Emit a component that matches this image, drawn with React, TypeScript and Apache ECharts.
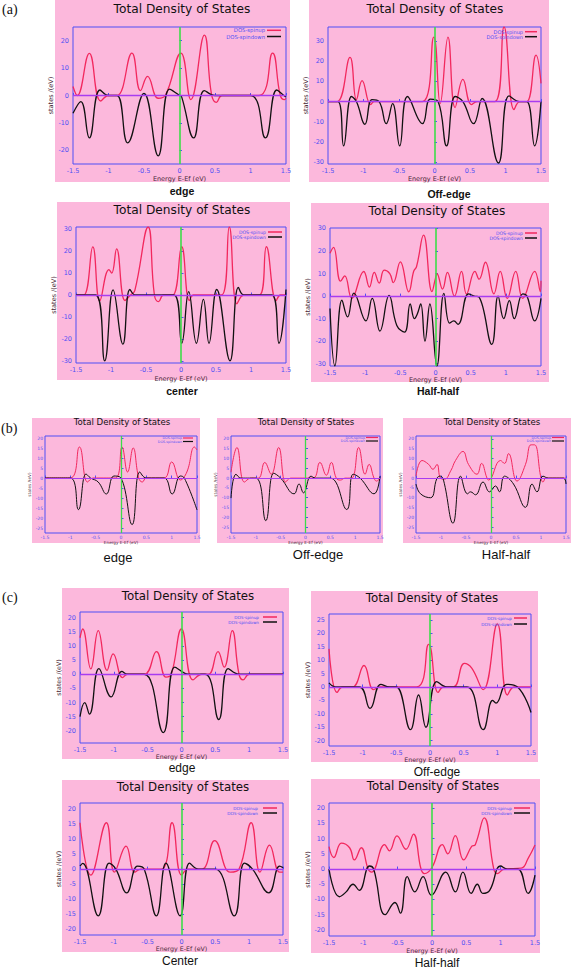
import React, { useEffect, useRef } from 'react';
import * as echarts from 'echarts';

type Pt = [number, number];

// ---------- (a) ----------
const aEdgeUp: Pt[] = [[-1.5,3.3],[-1.44,0],[-1.27,15.4],[-1.11,-2],[-1.0,0],[-0.88,0],[-0.67,15.5],[-0.55,1.8],[-0.45,7],[-0.30,-1],[-0.2,0],[0.02,15.5],[0.16,-1.5],[0.35,22],[0.45,0.5],[0.52,-2.5],[0.6,0],[1.12,0],[1.31,15.5],[1.42,0],[1.48,-1.5],[1.5,-1]];
const aEdgeDown: Pt[] = [[-1.5,-6.5],[-1.39,-2.2],[-1.27,-15.5],[-1.12,2],[-1.0,0],[-0.88,0],[-0.73,-17.3],[-0.5,0.8],[-0.3,-22],[-0.14,2.3],[0,0],[0.03,-0.5],[0.2,-15.5],[0.35,1.8],[0.5,0],[1.0,0],[1.21,-15.5],[1.37,2],[1.47,0],[1.5,-0.5]];
const aOffUp: Pt[] = [[-1.5,0],[-1.37,0],[-1.19,21.9],[-1.10,1],[-1.02,10.4],[-0.90,-1.5],[-0.85,0],[-0.17,0],[-0.01,32],[0.08,-1],[0.19,32],[0.29,-3],[0.40,11],[0.52,-1.5],[0.6,0],[0.85,0],[0.98,37],[1.12,-4],[1.2,0],[1.3,0],[1.43,23],[1.5,9]];
const aOffDown: Pt[] = [[-1.5,0],[-1.36,0],[-1.28,-22],[-1.17,2.5],[-1.1,0],[-0.98,-11.3],[-0.88,1],[-0.78,0],[-0.68,-11],[-0.59,-1],[-0.49,-22],[-0.38,2.5],[-0.17,-11],[-0.06,1.2],[0.05,0],[0.17,-22],[0.29,2.5],[0.4,0],[0.55,-11],[0.67,1.5],[0.90,-30.5],[1.05,2.8],[1.2,0],[1.3,0],[1.41,-22],[1.5,0]];
const aCenterUp: Pt[] = [[-1.5,0],[-1.39,0],[-1.26,21.9],[-1.16,-2.7],[-1.03,11.6],[-0.99,10],[-0.92,21],[-0.80,-2.5],[-0.72,0],[-0.66,2],[-0.47,31],[-0.38,0],[-0.32,-3],[-0.25,0],[-0.12,0],[0.01,22],[0.12,-2.5],[0.18,0],[0.58,0],[0.69,31],[0.80,-4],[0.9,0],[1.12,0],[1.22,22],[1.36,-2.5],[1.42,0],[1.5,0]];
const aCenterDown: Pt[] = [[-1.5,0],[-1.22,0],[-1.09,-30],[-0.97,2.3],[-0.83,-22.4],[-0.73,2.5],[-0.65,0],[-0.1,0],[0.01,-22],[0.11,1.5],[0.22,-22],[0.32,-2],[0.40,-22],[0.51,2.5],[0.70,-30],[0.82,3.5],[0.9,0],[1.3,0],[1.40,-22],[1.5,2.5]];
const aHalfUp: Pt[] = [[-1.5,19],[-1.45,21.6],[-1.35,6.6],[-1.29,9],[-1.19,-1],[-1.02,10.9],[-0.94,4],[-0.87,10.5],[-0.80,5.8],[-0.73,11.5],[-0.65,10],[-0.60,6],[-0.50,15.2],[-0.38,1.9],[-0.31,11],[-0.27,13],[-0.17,27],[-0.05,2],[0,8],[0.02,9.9],[0.10,3.1],[0.17,10.5],[0.27,0],[0.37,11],[0.44,1],[0.56,11],[0.62,7.5],[0.71,15],[0.83,1],[0.92,11],[1.02,-1],[1.14,11],[1.24,-1],[1.41,11],[1.49,2],[1.5,6.8]];
const aHalfDown: Pt[] = [[-1.5,-5.5],[-1.43,-31],[-1.33,-1.8],[-1.25,-9.2],[-1.16,1.3],[-0.99,-11],[-0.90,-1],[-0.79,-15.5],[-0.66,0.3],[-0.55,-13],[-0.44,-16],[-0.36,-3.5],[-0.30,-10],[-0.26,-8],[-0.21,-3.5],[-0.15,-20],[-0.08,-3.5],[0.02,-31],[0.12,1.2],[0.20,-12],[0.26,-11],[0.32,-12.5],[0.47,1],[0.55,0],[0.62,-0.5],[0.80,-21.4],[0.89,0],[0.97,-10],[1.05,-2],[1.12,-10],[1.24,1],[1.30,0],[1.41,-11],[1.5,-1]];

// ---------- (b) ----------
const bEdgeUp: Pt[] = [[-1.5,0],[-1.0,0],[-0.82,15.5],[-0.66,-2],[-0.55,0],[-0.11,0],[0.02,15.5],[0.13,3],[0.24,15],[0.35,0],[0.42,-2],[0.5,0],[0.85,0],[1.0,8],[1.17,-1],[1.3,3],[1.45,15.5],[1.5,14]];
const bEdgeDown: Pt[] = [[-1.5,0],[-1.0,0],[-0.84,-15.8],[-0.69,2],[-0.6,0],[-0.45,-2],[-0.29,-8],[-0.14,1],[0,0],[0.22,-23.3],[0.37,3],[0.5,0],[0.85,0],[1.01,-8],[1.17,1],[1.25,0],[1.5,-16]];
const bOffUp: Pt[] = [[-1.5,3],[-1.38,15.6],[-1.23,-2],[-1.1,0],[-0.95,0],[-0.82,8],[-0.69,2],[-0.54,15.6],[-0.40,-2],[-0.3,0],[0.15,0],[0.29,8],[0.42,1.5],[0.52,8],[0.62,0],[0.7,-1],[0.8,0],[0.93,0],[1.07,15.6],[1.20,2],[1.28,7],[1.38,0],[1.43,-1.5],[1.5,0]];
const bOffDown: Pt[] = [[-1.5,-10.2],[-1.40,2],[-1.3,0],[-1.0,0],[-0.80,-21.7],[-0.64,2.5],[-0.5,0],[-0.23,-8],[-0.13,-3],[-0.04,-7.5],[0.11,1],[0.2,0],[0.5,0],[0.83,-16],[0.96,2],[1.1,0],[1.38,-8],[1.5,1]];
const bHalfUp: Pt[] = [[-1.5,1],[-1.38,9],[-1.25,7.1],[-1.16,4.5],[-1.08,7],[-1.01,0],[-0.93,-0.5],[-0.80,4],[-0.71,9],[-0.56,13.6],[-0.45,7],[-0.28,2],[-0.19,7.5],[-0.08,0],[-0.05,-1],[0.19,9],[0.27,7.5],[0.35,12.5],[0.52,-1.5],[0.69,7],[0.80,17],[0.87,17],[1.0,0],[1.04,-2],[1.1,0],[1.5,0]];
const bHalfDown: Pt[] = [[-1.5,-3],[-1.41,-8],[-1.21,-10],[-1.08,0],[-1.01,1],[-0.95,-1],[-0.76,-23],[-0.61,1],[-0.47,-8],[-0.41,-7],[-0.31,-8.5],[-0.16,-2],[-0.03,-7],[0.09,-4],[0.17,-7],[0.27,1],[0.45,-3],[0.69,-14.9],[0.82,-3],[0.92,-7],[1.04,1],[1.15,0],[1.45,0],[1.5,-3]];

// ---------- (c) ----------
const cEdgeUp: Pt[] = [[-1.5,12.9],[-1.46,16],[-1.34,1.9],[-1.23,15.4],[-1.10,1.4],[-1.01,7.2],[-0.87,-1.2],[-0.8,0],[-0.55,0],[-0.37,8],[-0.23,-1],[-0.15,0],[0.0,16],[0.17,-2],[0.3,0],[0.4,0],[0.54,8],[0.63,2.5],[0.75,15.4],[0.85,0],[0.91,-2],[1.0,0],[1.5,0]];
const cEdgeDown: Pt[] = [[-1.5,-15],[-1.43,-10],[-1.36,-14.1],[-1.22,2],[-1.04,-8],[-0.88,1],[-0.8,0],[-0.55,0],[-0.27,-20.6],[-0.10,2.5],[0.05,0.3],[0.1,0],[0.35,0],[0.55,-16],[0.69,2],[0.85,0],[1.5,0]];
const cOffUp: Pt[] = [[-1.5,14.2],[-1.38,-2],[-1.3,0],[-1.15,0],[-0.98,8],[-0.84,-1],[-0.75,0],[-0.2,0],[-0.02,15.9],[0.12,-2],[0.2,0],[0.35,0],[0.51,8.8],[0.62,7],[0.79,-1],[1.0,23.5],[1.15,-3],[1.25,0],[1.5,0]];
const cOffDown: Pt[] = [[-1.5,1.5],[-1.4,0],[-1.05,0],[-0.89,-8],[-0.73,1],[-0.6,0],[-0.5,0],[-0.29,-15.9],[-0.17,-3],[-0.06,-15],[0.10,2],[0.25,0],[0.55,0],[0.79,-15.9],[0.93,-5],[0.98,-6],[1.14,1],[1.3,0],[1.5,-9.5]];
const cCenterUp: Pt[] = [[-1.5,15.5],[-1.34,-2],[-1.11,15.5],[-0.99,-1],[-0.82,7.7],[-0.69,-1],[-0.6,0],[-0.3,0],[-0.14,15.5],[0.0,-2],[0.1,0],[0.3,0],[0.49,9.5],[0.72,-1],[0.85,0],[1.03,15.5],[1.16,-1],[1.30,8],[1.45,-1],[1.5,-1]];
const cCenterDown: Pt[] = [[-1.5,1],[-1.46,1.9],[-1.23,-15.6],[-1.07,2],[-0.97,0],[-0.81,-7.9],[-0.65,1],[-0.55,0],[-0.37,-15.6],[-0.23,2],[-0.02,-15.6],[0.12,2],[0.25,0],[0.5,0],[0.78,-15.6],[0.93,2],[1.05,0],[1.29,-7.9],[1.45,1],[1.5,0.5]];
const cHalfUp: Pt[] = [[-1.5,7.4],[-1.43,3.8],[-1.32,8.5],[-1.2,7],[-1.13,3],[-1.03,7],[-0.93,0],[-0.88,-1],[-0.69,8],[-0.62,6],[-0.51,10.9],[-0.38,6.5],[-0.27,11.5],[-0.16,0],[-0.11,-1.5],[0,0.5],[0.15,8],[0.23,5],[0.34,11],[0.46,3],[0.58,7.5],[0.63,8],[0.76,16.8],[0.90,0],[0.95,-1.5],[1.05,0],[1.3,0.3],[1.4,3.5],[1.5,7.9]];
const cHalfDown: Pt[] = [[-1.5,0],[-1.35,-9.1],[-1.25,-7.5],[-1.15,-5],[-1.06,-7],[-0.91,1],[-0.85,0],[-0.68,-15],[-0.54,-11],[-0.46,-14.5],[-0.36,-2.5],[-0.25,-7.5],[-0.13,-2.5],[-0.01,-8.6],[0.2,-1],[0.34,-7.5],[0.45,-1],[0.57,-8],[0.66,-5],[0.74,-8],[0.84,-7],[1.0,1],[1.1,0],[1.25,0],[1.40,-8],[1.5,-2]];

const seriesNames = ['DOS-spinup', 'DOS-spindown'];
const panelTitle = 'Total Density of States';
const xAxisTitle = 'Energy E-Ef (eV)';
const yAxisTitle = 'states /(eV)';

// ---------- layout / style ----------
const PINK = '#fcb8dc';
const BLUE = '#4f4ff5';
const RED = '#f2285e';
const BLACK = '#111111';
const GREEN = '#3ddc4a';
const PURPLE = '#a83cf0';
const NAME_COLOR = '#4a2838';

type Layout = {
  up: Pt[]; down: Pt[];
  pink: [number, number, number, number];
  grid: [number, number, number, number];
  y: [number, number, number];
  title: [number, number, number];
  label: [string, number, number, string];
  legend: [number, number, number, number, number, number];
  yg: number; xg: number; tf: number; nf: number; lw: number;
};

const A_LABEL = 'bold 10.5px "Liberation Sans", Arial, sans-serif';
const B_LABEL = '13px "Liberation Sans", Arial, sans-serif';
const C_LABEL = '12px "Liberation Sans", Arial, sans-serif';

const layouts: Layout[] = [
  { up: aEdgeUp, down: aEdgeDown, pink: [55, 0, 235, 182], grid: [73, 27, 286, 164], y: [-25, 25, 10], title: [182, 9, 12.2], label: ['edge', 182, 191, A_LABEL], legend: [265, 267, 281, 30.3, 36.5, 5.3], yg: 11, xg: 11, tf: 6.5, nf: 6.5, lw: 1.3 },
  { up: aOffUp, down: aOffDown, pink: [309, 0, 240, 182], grid: [328, 27, 541, 164], y: [-31, 37, 10], title: [435, 9, 12.2], label: ['Off-edge', 449, 194, A_LABEL], legend: [523, 525, 537, 31.7, 36.7, 5.0], yg: 13, xg: 11, tf: 6.5, nf: 6.5, lw: 1.3 },
  { up: aCenterUp, down: aCenterDown, pink: [57, 202, 233, 178], grid: [76, 227, 286, 363], y: [-31, 31, 10], title: [182, 210, 12.2], label: ['center', 182, 391, A_LABEL], legend: [266, 268, 282, 232, 237, 4.6], yg: 14, xg: 12, tf: 6.5, nf: 6.5, lw: 1.3 },
  { up: aHalfUp, down: aHalfDown, pink: [311, 203, 238, 179], grid: [330, 228, 541, 366], y: [-31, 30.2, 10], title: [437, 211, 12.2], label: ['Half-half', 438, 391, A_LABEL], legend: [523, 525, 537, 233, 238, 4.6], yg: 13, xg: 9, tf: 6.5, nf: 6.5, lw: 1.3 },
  { up: bEdgeUp, down: bEdgeDown, pink: [32, 418, 168, 125], grid: [45, 436, 197, 533], y: [-27.5, 21, 5], title: [122, 422, 8.6], label: ['edge', 118, 557, B_LABEL], legend: [182, 183, 193, 438, 441.5, 3.3], yg: 11, xg: 6, tf: 4.5, nf: 4.2, lw: 1 },
  { up: bOffUp, down: bOffDown, pink: [217, 418, 166, 125], grid: [231, 436, 380, 533], y: [-28, 21.5, 5], title: [306, 422, 8.6], label: ['Off-edge', 318, 554, B_LABEL], legend: [365, 366, 378, 437.5, 441, 3.3], yg: 11, xg: 6, tf: 4.5, nf: 4.2, lw: 1 },
  { up: bHalfUp, down: bHalfDown, pink: [403, 418, 168, 125], grid: [416, 436, 566, 533], y: [-28, 21.5, 5], title: [492, 422, 8.6], label: ['Half-half', 506, 554, B_LABEL], legend: [551, 552, 564, 437.5, 441, 3.3], yg: 11, xg: 6, tf: 4.5, nf: 4.2, lw: 1 },
  { up: cEdgeUp, down: cEdgeDown, pink: [62, 588, 227, 171], grid: [80, 612, 283, 743], y: [-24.3, 22, 5], title: [188, 596, 11.8], label: ['edge', 182, 768, C_LABEL], legend: [259, 263, 277, 617, 622, 4.2], yg: 16, xg: 10, tf: 6.5, nf: 6.3, lw: 1.3 },
  { up: cOffUp, down: cOffDown, pink: [311, 591, 227, 171], grid: [329, 614, 531, 746], y: [-22, 27.2, 5], title: [432, 598, 11.8], label: ['Off-edge', 437, 772, C_LABEL], legend: [512, 514, 527, 618, 624, 4.2], yg: 12, xg: 9, tf: 6.5, nf: 6.3, lw: 1.3 },
  { up: cCenterUp, down: cCenterDown, pink: [62, 780, 227, 172], grid: [80, 803, 283, 935], y: [-22, 22.1, 5], title: [183, 787, 11.8], label: ['Center', 180, 961, C_LABEL], legend: [258, 263, 277, 808, 813, 4.2], yg: 12, xg: 10, tf: 6.5, nf: 6.3, lw: 1.3 },
  { up: cHalfUp, down: cHalfDown, pink: [311, 779, 229, 174], grid: [329, 803, 535, 936], y: [-22, 21.7, 5], title: [433, 786, 11.8], label: ['Half-half', 437, 963, C_LABEL], legend: [512, 514, 530, 808, 813, 4.2], yg: 13, xg: 11, tf: 6.5, nf: 6.3, lw: 1.3 },
];

const figureLetters: [string, number, number][] = [['(a)', 2, 9], ['(b)', 1, 428], ['(c)', 2, 597]];

const SANS = '"DejaVu Sans", Verdana, sans-serif';

function buildOption() {
  const grid: any[] = [];
  const xAxis: any[] = [];
  const yAxis: any[] = [];
  const series: any[] = [];
  const elements: any[] = [];

  layouts.forEach((p, i) => {
    const [l, t, r, b] = p.grid;
    grid.push({ left: l, top: t, width: r - l, height: b - t, show: true, borderColor: BLUE, borderWidth: 1, backgroundColor: 'transparent', containLabel: false });
    xAxis.push({
      type: 'value', gridIndex: i, min: -1.5, max: 1.5, interval: 0.5,
      axisLine: { show: false }, splitLine: { show: false },
      axisTick: { show: true, inside: true, length: 2.5, lineStyle: { color: BLUE, width: 1 } },
      axisLabel: { color: BLUE, fontSize: p.tf, fontFamily: SANS, margin: p.tf < 5 ? 1.5 : 3 },
      name: xAxisTitle, nameLocation: 'middle', nameGap: p.xg,
      nameTextStyle: { color: NAME_COLOR, fontSize: p.nf, fontFamily: SANS, verticalAlign: 'top' },
    });
    const [ymin, ymax, step] = p.y;
    yAxis.push({
      type: 'value', gridIndex: i, min: ymin, max: ymax, splitNumber: Math.round((ymax - ymin) / step),
      axisLine: { show: false }, splitLine: { show: false },
      axisTick: { show: true, inside: true, length: 2.5, lineStyle: { color: BLUE, width: 1 } },
      axisLabel: { color: BLUE, fontSize: p.tf, fontFamily: SANS, margin: p.tf < 5 ? 2 : 4, showMinLabel: false, showMaxLabel: false },
      name: yAxisTitle, nameLocation: 'middle', nameRotate: 90, nameGap: p.yg,
      nameTextStyle: { color: NAME_COLOR, fontSize: p.nf, fontFamily: SANS },
    });
    series.push({
      type: 'line', name: seriesNames[0], xAxisIndex: i, yAxisIndex: i, data: p.up,
      showSymbol: false, symbol: 'none', smooth: 0.45, z: 3,
      lineStyle: { color: RED, width: p.lw }, itemStyle: { color: RED }, silent: true,
    });
    series.push({
      type: 'line', name: seriesNames[1], xAxisIndex: i, yAxisIndex: i, data: p.down,
      showSymbol: false, symbol: 'none', smooth: 0.45, z: 4,
      lineStyle: { color: BLACK, width: p.lw }, itemStyle: { color: BLACK }, silent: true,
      markLine: {
        silent: true, symbol: 'none', label: { show: false }, animation: false,
        data: [
          { xAxis: 0, lineStyle: { color: GREEN, width: p.lw + 0.3, type: 'solid' } },
          { yAxis: 0, lineStyle: { color: PURPLE, width: p.lw, type: 'solid' } },
        ],
      },
    });

    const [px, py, pw, ph] = p.pink;
    elements.push({ type: 'rect', z: -10, shape: { x: px, y: py, width: pw, height: ph }, style: { fill: PINK } });
    elements.push({
      type: 'text', z: 10, x: p.title[0], y: p.title[1],
      style: { text: panelTitle, fill: '#111', font: `${p.title[2]}px ${SANS}`, textAlign: 'center', textVerticalAlign: 'middle', align: 'center', verticalAlign: 'middle' },
    });
    elements.push({
      type: 'text', z: 10, x: p.label[1], y: p.label[2],
      style: { text: p.label[0], fill: '#111', font: p.label[3], textAlign: 'center', textVerticalAlign: 'middle', align: 'center', verticalAlign: 'middle' },
    });
    const [tr, l1, l2, y1, y2, fs] = p.legend;
    [[y1, RED, seriesNames[0]], [y2, BLACK, seriesNames[1]]].forEach(([yy, col, txt]: any) => {
      elements.push({
        type: 'text', z: 10, x: tr, y: yy,
        style: { text: txt, fill: BLUE, font: `${fs}px ${SANS}`, textAlign: 'right', textVerticalAlign: 'middle', align: 'right', verticalAlign: 'middle' },
      });
      elements.push({ type: 'line', z: 10, shape: { x1: l1, y1: yy, x2: l2, y2: yy }, style: { stroke: col, lineWidth: p.lw + 0.2 } });
    });
  });

  figureLetters.forEach(([txt, x, y]) => {
    elements.push({
      type: 'text', z: 10, x, y,
      style: { text: txt, fill: '#111', font: '14px "Liberation Serif", "Times New Roman", serif', textAlign: 'left', textVerticalAlign: 'middle', align: 'left', verticalAlign: 'middle' },
    });
  });

  return {
    animation: false,
    backgroundColor: '#ffffff',
    grid, xAxis, yAxis, series,
    graphic: { elements },
  };
}

export default function App() {
  const ref = useRef<HTMLDivElement>(null);
  useEffect(() => {
    if (!ref.current) return;
    const chart = echarts.init(ref.current, undefined, { renderer: 'svg' });
    chart.setOption(buildOption() as any);
    return () => chart.dispose();
  }, []);
  return <div ref={ref} style={{ position: 'absolute', left: 0, top: 0, width: 573, height: 970 }} />;
}
